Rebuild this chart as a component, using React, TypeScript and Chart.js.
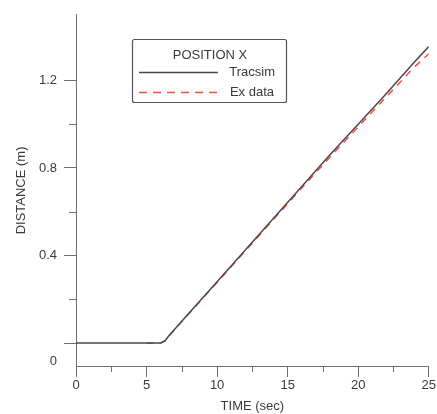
import React, { useEffect, useRef } from "react";
import { Chart, registerables } from "chart.js";

Chart.register(...registerables);

// ---- data ----
const timeTracsim = [0, 5, 6, 6.3, 6.6, 8, 10, 12, 14, 16, 18, 20, 22, 24, 25];
const distTracsim = [0, 0, 0, 0.01, 0.034, 0.136, 0.28, 0.425, 0.57, 0.715, 0.86, 1.0, 1.14, 1.285, 1.355];
const timeEx = [5, 6, 6.3, 6.6, 8, 10, 12, 14, 16, 18, 20, 22, 24, 25];
const distEx = [0, 0, 0.009, 0.032, 0.134, 0.277, 0.421, 0.565, 0.708, 0.85, 0.988, 1.126, 1.262, 1.322];

const xMajorTicks = [0, 5, 10, 15, 20, 25];
const xMinorTicks = [2.5, 7.5, 12.5, 17.5, 22.5];
const yMajorTicks = [0, 0.4, 0.8, 1.2];
const yMinorTicks = [0.2, 0.6, 1.0];

const legendTitle = "POSITION X";
const seriesNames = ["Tracsim", "Ex data"];
const xTitle = "TIME (sec)";
const yTitle = "DISTANCE (m)";

const FONT = "'Liberation Sans', Arial, sans-serif";
const AXIS = "#707070";
const TEXT = "#3a3a3a";
const LINE1 = "#4a4a4a";
const LINE2 = "#ff4a4a";

const extrasPlugin = {
  id: "extras",
  afterDraw(chart: any) {
    const ctx = chart.ctx as CanvasRenderingContext2D;
    const xs = chart.scales.x;
    const ys = chart.scales.y;
    const area = chart.chartArea;
    ctx.save();
    // minor ticks
    ctx.strokeStyle = AXIS;
    ctx.lineWidth = 1;
    ctx.beginPath();
    xMinorTicks.forEach((v) => {
      const px = Math.round(xs.getPixelForValue(v)) + 0.5;
      ctx.moveTo(px, area.bottom);
      ctx.lineTo(px, area.bottom + 6);
    });
    yMinorTicks.forEach((v) => {
      const py = Math.round(ys.getPixelForValue(v)) + 0.5;
      ctx.moveTo(area.left - 7, py);
      ctx.lineTo(area.left, py);
    });
    ctx.stroke();

    // zero label (offset below its tick as in the original)
    ctx.fillStyle = TEXT;
    ctx.font = `13px ${FONT}`;
    ctx.textAlign = "right";
    ctx.textBaseline = "middle";
    ctx.fillText("0", area.left - 19, ys.getPixelForValue(0) + 18);

    // legend
    const bx = 132, by = 39, bw = 154, bh = 63;
    ctx.fillStyle = "#ffffff";
    ctx.strokeStyle = "#555555";
    ctx.lineWidth = 1.2;
    ctx.beginPath();
    (ctx as any).roundRect ? (ctx as any).roundRect(bx + 0.5, by + 0.5, bw, bh, 2) : ctx.rect(bx + 0.5, by + 0.5, bw, bh);
    ctx.fill();
    ctx.stroke();

    ctx.fillStyle = TEXT;
    ctx.textAlign = "center";
    ctx.textBaseline = "middle";
    ctx.fillText(legendTitle, 210, 55);

    ctx.textAlign = "right";
    ctx.fillText(seriesNames[0], 275, 72);
    ctx.fillText(seriesNames[1], 274, 92);

    ctx.lineWidth = 1.5;
    ctx.strokeStyle = LINE1;
    ctx.beginPath();
    ctx.moveTo(139, 72.5);
    ctx.lineTo(218, 72.5);
    ctx.stroke();

    ctx.strokeStyle = LINE2;
    ctx.setLineDash([8, 6]);
    ctx.beginPath();
    ctx.moveTo(139, 92.5);
    ctx.lineTo(218, 92.5);
    ctx.stroke();
    ctx.setLineDash([]);
    ctx.restore();
  },
};

export default function App() {
  const ref = useRef<HTMLCanvasElement | null>(null);

  useEffect(() => {
    if (!ref.current) return;
    const chart = new Chart(ref.current, {
      type: "line",
      data: {
        datasets: [
          {
            label: seriesNames[0],
            data: timeTracsim.map((t, i) => ({ x: t, y: distTracsim[i] })),
            borderColor: LINE1,
            borderWidth: 1.5,
            pointRadius: 0,
            tension: 0,
            fill: false,
          },
          {
            label: seriesNames[1],
            data: timeEx.map((t, i) => ({ x: t, y: distEx[i] })),
            borderColor: LINE2,
            borderWidth: 1.5,
            borderDash: [7, 6],
            pointRadius: 0,
            tension: 0,
            fill: false,
          },
        ],
      },
      options: {
        animation: false,
        responsive: false,
        devicePixelRatio: 1,
        layout: { padding: { top: 13, right: 7, left: 0, bottom: 0 } },
        plugins: { legend: { display: false }, tooltip: { enabled: false } },
        scales: {
          x: {
            type: "linear",
            min: 0,
            max: 25,
            afterBuildTicks: (s: any) => {
              s.ticks = xMajorTicks.map((v) => ({ value: v }));
            },
            afterFit: (s: any) => {
              s.height = 48;
            },
            grid: { display: true, drawOnChartArea: false, drawTicks: true, tickLength: 11, color: AXIS },
            border: { display: true, color: AXIS, width: 1 },
            ticks: {
              padding: 1,
              color: TEXT,
              font: { family: FONT, size: 13 },
              maxRotation: 0,
              callback: (v: any) => String(v),
            },
            title: {
              display: true,
              text: xTitle,
              color: TEXT,
              font: { family: FONT, size: 13 },
              padding: { top: 1, bottom: 0 },
            },
          },
          y: {
            type: "linear",
            min: -0.105,
            max: 1.5,
            afterBuildTicks: (s: any) => {
              s.ticks = yMajorTicks.map((v) => ({ value: v }));
            },
            afterFit: (s: any) => {
              s.width = 76;
            },
            grid: { display: true, drawOnChartArea: false, drawTicks: true, tickLength: 12, color: AXIS },
            border: { display: true, color: AXIS, width: 1 },
            ticks: {
              padding: 7,
              color: TEXT,
              font: { family: FONT, size: 13 },
              callback: (v: any) => (v === 0 ? "" : Number(v).toFixed(1)),
            },
            title: {
              display: true,
              text: yTitle,
              color: TEXT,
              font: { family: FONT, size: 13 },
              padding: { top: 14, bottom: 0 },
            },
          },
        },
      },
      plugins: [extrasPlugin],
    });
    return () => chart.destroy();
  }, []);

  return (
    <div style={{ position: "absolute", left: 0, top: 0, width: 437, height: 414 }}>
      <canvas ref={ref} width={437} height={414} style={{ display: "block" }} />
    </div>
  );
}
